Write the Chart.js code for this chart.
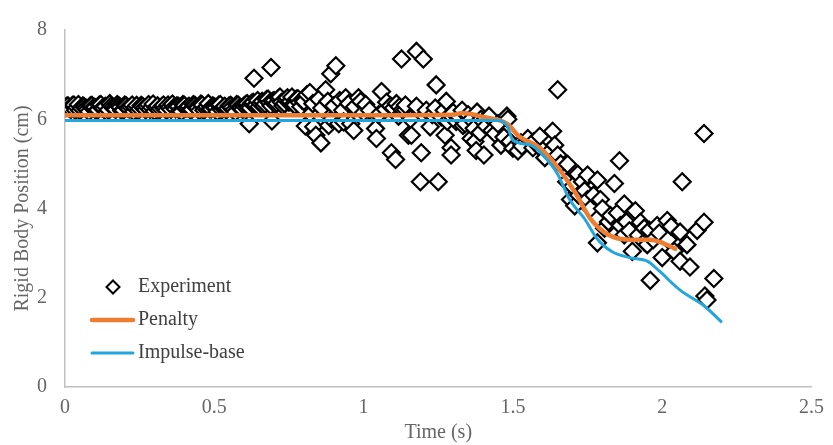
<!DOCTYPE html>
<html>
<head>
<meta charset="utf-8">
<script src="https://cdn.jsdelivr.net/npm/chart.js@4.4.1/dist/chart.umd.min.js"></script>
<style>
html,body{margin:0;padding:0;background:#fff;}
#wrap{width:833px;height:445px;position:relative;}
</style>
</head>
<body>
<div id="wrap"><canvas id="c" width="833" height="445"></canvas></div>
<script>
// ---------- DATA ----------
const xTicks = [0, 0.5, 1, 1.5, 2, 2.5];
const yTicks = [0, 2, 4, 6, 8];

// Experiment: steady phase 0 - 0.6 s
const expTimeA = [0,0.01,0.02,0.03,0.04,0.05,0.06,0.07,0.08,0.09,
  0.10,0.11,0.12,0.13,0.14,0.15,0.16,0.17,0.18,0.19,
  0.20,0.21,0.22,0.23,0.24,0.25,0.26,0.27,0.28,0.29,
  0.30,0.31,0.32,0.33,0.34,0.35,0.36,0.37,0.38,0.39,
  0.40,0.41,0.42,0.43,0.44,0.45,0.46,0.47,0.48,0.49,
  0.50,0.51,0.52,0.53,0.54,0.55,0.56,0.57,0.58,0.59,
  0.005,0.015,0.025,0.035,0.045,0.055,0.065,0.075,0.085,0.095,
  0.105,0.115,0.125,0.135,0.145,0.155,0.165,0.175,0.185,0.195,
  0.205,0.215,0.225,0.235,0.245,0.255,0.265,0.275,0.285,0.295,
  0.305,0.315,0.325,0.335,0.345,0.355,0.365,0.375,0.385,0.395,
  0.405,0.415,0.425,0.435,0.445,0.455,0.465,0.475,0.485,0.495,
  0.505,0.515,0.525,0.535,0.545,0.555,0.565,0.575,0.585,0.595];
const expPosA = [6.26,6.30,6.22,6.32,6.27,6.19,6.30,6.25,6.17,6.31,
  6.27,6.21,6.33,6.24,6.16,6.35,6.27,6.22,6.30,6.19,
  6.32,6.25,6.28,6.17,6.31,6.24,6.29,6.21,6.33,6.27,
  6.18,6.30,6.24,6.32,6.20,6.27,6.34,6.23,6.29,6.17,
  6.31,6.26,6.21,6.33,6.27,6.19,6.32,6.25,6.35,6.23,
  6.28,6.17,6.33,6.26,6.21,6.30,6.27,6.16,6.32,6.25,
  6.29,6.24,6.31,6.20,6.33,6.25,6.28,6.22,6.30,6.26,
  6.19,6.32,6.25,6.29,6.21,6.30,6.24,6.33,6.27,6.20,
  6.30,6.23,6.32,6.26,6.19,6.31,6.25,6.28,6.22,6.34,
  6.26,6.20,6.29,6.24,6.32,6.22,6.27,6.30,6.19,6.33,
  6.24,6.29,6.22,6.31,6.25,6.34,6.20,6.28,6.23,6.30,
  6.26,6.32,6.21,6.29,6.24,6.31,6.20,6.33,6.27,6.22];

// Experiment: 0.6 - 1.0 s
const expTimeB = [0.60,0.61,0.62,0.63,0.64,0.65,0.66,0.67,0.68,0.69,
  0.70,0.71,0.72,0.73,0.74,0.75,0.76,0.77,0.78,0.79,
  0.80,0.81,0.83,0.85,0.86,0.88,0.90,0.92,0.93,0.95,
  0.97,0.99,1.00,
  0.605,0.615,0.625,0.635,0.645,0.655,0.665,0.675,0.685,0.695,
  0.705,0.715,0.725,0.735,0.745,0.755,0.765,0.775,0.785,0.795,
  0.617,0.633,0.69,0.693,0.82,0.833,0.84,0.857,0.873,0.89,
  0.907,0.893,0.917,0.94,0.957,0.967,0.983,0.805,0.883,0.933];
const expPosB = [6.30,6.35,6.25,6.38,6.32,6.28,6.40,6.34,6.45,6.30,
  6.42,6.36,6.50,6.30,6.44,6.38,6.50,6.32,6.46,6.28,
  6.40,6.55,6.35,6.45,6.25,6.40,6.30,6.42,6.20,6.35,
  6.28,6.40,6.15,
  6.33,6.28,6.36,6.30,6.42,6.35,6.30,6.44,6.37,6.40,
  6.33,6.47,6.38,6.35,6.48,6.40,6.34,6.45,6.38,6.42,
  5.90,6.92,7.16,5.96,6.60,5.83,5.64,5.47,6.66,7.02,
  7.20,6.00,5.90,6.48,5.90,5.75,6.48,5.85,5.86,5.94];

// Experiment: 1.0 - 1.5 s
const expTimeC = [1.04,1.043,1.06,1.073,1.093,1.107,1.127,1.14,1.16,1.177,
  1.20,1.19,1.25,1.243,1.193,1.293,1.293,1.36,1.377,1.117,
  1.157,1.223,1.15,1.273,1.177,1.277,1.333,1.393,1.007,1.077,
  1.403,1.373,1.483,
  1.02,1.05,1.09,1.10,1.11,1.12,1.13,1.14,1.21,1.23,
  1.26,1.30,1.31,1.32,1.34,1.35,1.37,1.38,1.40,1.42,
  1.43,1.44,1.46,1.47,1.48,1.49,1.50,
  1.24,1.27,1.28,1.29,1.33,1.36,1.39,1.41,1.45];
const expPosC = [5.79,5.57,6.62,6.22,5.25,5.10,7.35,6.22,5.64,7.52,
  7.35,4.60,4.60,6.77,5.25,5.36,5.20,5.57,5.30,6.07,
  6.00,5.83,5.64,5.64,6.29,6.40,5.86,6.00,6.33,6.38,
  5.20,5.50,6.00,
  6.20,6.10,6.30,6.25,6.35,6.28,6.22,6.32,6.20,6.10,
  6.05,6.15,5.95,6.05,5.90,6.10,5.80,6.16,5.95,6.07,
  5.75,5.68,5.42,5.60,6.07,5.50,5.35,
  6.25,6.20,5.95,6.10,6.20,6.00,5.70,5.85,5.90];

// Experiment: 1.5 - 2.2 s
const expTimeD = [1.517,1.527,1.55,1.567,1.59,1.607,1.633,1.64,1.65,1.65,
  1.683,1.693,1.707,1.717,1.733,1.75,1.75,1.783,1.783,1.793,
  1.807,1.827,1.84,1.857,1.86,1.873,1.873,1.90,1.91,1.927,
  1.94,1.94,1.95,1.957,1.96,1.983,2.00,2.017,2.04,2.06,
  2.06,2.067,2.083,2.093,2.117,2.14,2.14,2.143,2.15,2.173,
  1.53,1.57,1.60,1.62,1.66,1.68,1.70,1.72,1.74,1.76,
  1.77,1.80,1.82,1.85,1.88,1.89,1.92,1.97,1.99,2.02,
  2.03];
const expPosD = [5.29,5.47,5.57,5.36,5.62,5.14,5.73,5.42,5.20,6.66,
  4.99,4.20,4.06,4.77,4.60,4.75,4.20,4.64,3.23,4.20,
  3.56,3.84,4.56,5.07,3.62,4.10,3.41,3.04,3.95,3.69,
  3.25,3.56,3.19,3.51,2.39,3.62,2.90,3.73,3.04,3.47,
  2.82,4.60,3.19,2.69,3.51,3.69,5.68,2.04,1.95,2.43,
  5.40,5.50,5.30,5.25,5.00,4.60,4.50,4.30,4.40,4.00,
  4.30,4.00,3.70,3.90,3.70,3.50,3.40,3.30,3.45,3.30,
  3.60];

const expTime = [].concat(expTimeA, expTimeB, expTimeC, expTimeD);
const expPos  = [].concat(expPosA, expPosB, expPosC, expPosD);

// Penalty model
const penTime = [0, 0.5, 1.0, 1.30, 1.33, 1.40, 1.48, 1.52, 1.59, 1.65, 1.71, 1.76, 1.82, 1.89, 1.96, 2.00, 2.05];
const penPos  = [6.09, 6.09, 6.09, 6.10, 6.14, 6.05, 5.90, 5.62, 5.36, 4.92, 4.34, 3.77, 3.41, 3.30, 3.30, 3.23, 3.08];

// Impulse-base model
const impTime = [0, 0.5, 1.0, 1.45, 1.48, 1.50, 1.56, 1.60, 1.65, 1.69, 1.74, 1.78, 1.83, 1.89, 1.95, 1.99, 2.06, 2.14, 2.20];
const impPos  = [5.97, 5.97, 5.97, 5.97, 5.86, 5.53, 5.42, 5.20, 4.77, 4.20, 3.77, 3.34, 3.04, 2.90, 2.82, 2.60, 2.17, 1.82, 1.45];

// ---------- CHART ----------
const toPts = (xs, ys) => xs.map((x, i) => ({x: x, y: ys[i]}));
const sortByX = pts => pts.slice().sort((a, b) => a.x - b.x);
const FONT = '"Liberation Serif", "Times New Roman", serif';
const TICK_COLOR = '#666666';

const legendPlugin = {
  id: 'insideLegend',
  afterDraw(chart) {
    const ctx = chart.ctx;
    const ds = chart.data.datasets;
    ctx.save();
    ctx.font = '20px ' + FONT;
    ctx.textBaseline = 'middle';
    ctx.textAlign = 'left';
    // Experiment diamond
    const cx = 113, cy = 287, r = 6.5;
    ctx.beginPath();
    ctx.moveTo(cx, cy - r); ctx.lineTo(cx + r, cy); ctx.lineTo(cx, cy + r); ctx.lineTo(cx - r, cy); ctx.closePath();
    ctx.fillStyle = '#ffffff'; ctx.fill();
    ctx.strokeStyle = ds[0].borderColor; ctx.lineWidth = 2; ctx.stroke();
    ctx.fillStyle = '#404040';
    ctx.fillText(ds[0].label, 138, cy);
    // Penalty
    ctx.beginPath(); ctx.moveTo(92, 320); ctx.lineTo(133, 320);
    ctx.strokeStyle = ds[1].borderColor; ctx.lineWidth = ds[1].borderWidth; ctx.lineCap = 'round'; ctx.stroke();
    ctx.fillText(ds[1].label, 138, 320);
    // Impulse-base
    ctx.beginPath(); ctx.moveTo(92, 353); ctx.lineTo(133, 353);
    ctx.strokeStyle = ds[2].borderColor; ctx.lineWidth = ds[2].borderWidth; ctx.stroke();
    ctx.fillText(ds[2].label, 138, 353);
    ctx.restore();
  }
};

const numLabel = v => String(Number(v));

new Chart(document.getElementById('c'), {
  type: 'scatter',
  data: {
    datasets: [
      {
        label: 'Experiment',
        data: sortByX(toPts(expTime, expPos)),
        pointStyle: 'rectRot',
        pointRadius: 8.5,
        pointBorderWidth: 2.2,
        borderColor: '#000000',
        pointBorderColor: '#000000',
        pointBackgroundColor: '#ffffff',
        backgroundColor: '#ffffff',
        showLine: false,
        order: 3
      },
      {
        label: 'Penalty',
        data: toPts(penTime, penPos),
        showLine: true,
        borderColor: '#ED7D31',
        borderWidth: 4.5,
        pointRadius: 0,
        cubicInterpolationMode: 'monotone',
        fill: false,
        order: 2
      },
      {
        label: 'Impulse-base',
        data: toPts(impTime, impPos),
        showLine: true,
        borderColor: '#22A6DD',
        borderWidth: 3,
        pointRadius: 0,
        cubicInterpolationMode: 'monotone',
        fill: false,
        order: 1
      }
    ]
  },
  options: {
    responsive: false,
    animation: false,
    events: [],
    layout: { padding: { top: 18, right: 17, left: 0, bottom: 0 } },
    plugins: { legend: { display: false }, tooltip: { enabled: false } },
    scales: {
      x: {
        type: 'linear',
        min: 0, max: 2.5,
        afterBuildTicks: s => { s.ticks = xTicks.map(v => ({ value: v })); },
        afterFit: s => { s.height = 58; },
        grid: { display: false, drawTicks: false },
        border: { display: true, color: '#c0c0c0', width: 1.5 },
        ticks: { padding: 9, color: TICK_COLOR, font: { family: FONT, size: 20 }, maxRotation: 0, callback: numLabel },
        title: { display: true, text: 'Time (s)', color: TICK_COLOR, font: { family: FONT, size: 20 }, padding: { top: 0, bottom: 0 } }
      },
      y: {
        type: 'linear',
        min: 0, max: 8,
        afterBuildTicks: s => { s.ticks = yTicks.map(v => ({ value: v })); },
        afterFit: s => { s.width = 65; },
        grid: { display: false, drawTicks: false },
        border: { display: true, color: '#c0c0c0', width: 1.5 },
        ticks: { padding: 18, color: TICK_COLOR, font: { family: FONT, size: 20 }, callback: numLabel },
        title: { display: true, text: 'Rigid Body Position (cm)', color: TICK_COLOR, font: { family: FONT, size: 20 }, padding: { top: 11, bottom: 0 } }
      }
    }
  },
  plugins: [legendPlugin]
});
</script>
</body>
</html>
